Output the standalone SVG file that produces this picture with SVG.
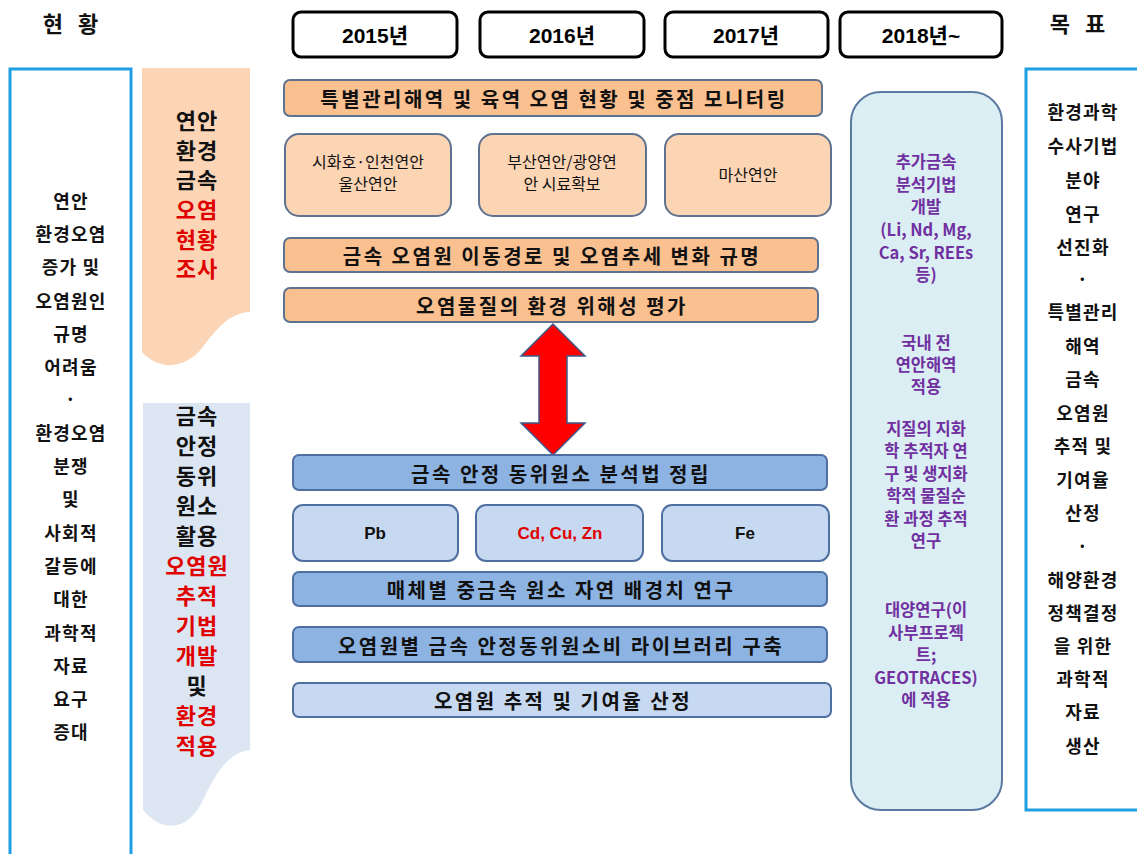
<svg xmlns="http://www.w3.org/2000/svg" width="1137" height="854" viewBox="0 0 1137 854">
<style>
text{font-family:"Noto Sans CJK KR","Liberation Sans",sans-serif;font-weight:bold;text-anchor:middle;dominant-baseline:central}
.yr{fill:#fff;stroke:#000;stroke-width:3}
.yt{font-family:"Liberation Sans","Noto Sans CJK KR",sans-serif;font-size:21px}
.hd{font-size:22px;letter-spacing:5px;fill:#111}
.frame{fill:#fff;stroke:#1ea0e0;stroke-width:3}
.side{font-size:18px;letter-spacing:1.2px;fill:#111}
.ban{font-size:22px;letter-spacing:1px;fill:#111}
.or1{fill:#fac090;stroke:#5f7290;stroke-width:2}
.or2{fill:#fcd5b5;stroke:#5f7290;stroke-width:2}
.bl1{fill:#8db3e2;stroke:#4f6fa0;stroke-width:2}
.bl2{fill:#c6d9f1;stroke:#4f6fa0;stroke-width:2}
.bt{font-size:20px;letter-spacing:2.5px;fill:#111}
.el{font-family:"Liberation Sans",sans-serif;font-size:17px;fill:#111}
.st{font-size:16px;fill:#111;font-weight:normal}
.pt{font-size:16.5px;fill:#7030a0}
.red{fill:#e00000}
</style>
<rect width="1137" height="854" fill="#fff"/>

<g id="head-left"><text class="hd" x="73" y="22">현 황</text></g>
<g id="head-right"><text class="hd" x="1080" y="22">목 표</text></g>

<g id="y2015"><rect class="yr" x="293" y="12" width="164" height="45" rx="8"/><text class="yt" x="375" y="35">2015년</text></g>
<g id="y2016"><rect class="yr" x="480" y="12" width="164" height="45" rx="8"/><text class="yt" x="562" y="35">2016년</text></g>
<g id="y2017"><rect class="yr" x="665" y="12" width="163" height="45" rx="8"/><text class="yt" x="746" y="35">2017년</text></g>
<g id="y2018"><rect class="yr" x="840" y="12" width="162" height="45" rx="8"/><text class="yt" x="921" y="35">2018년~</text></g>

<g id="status">
<rect class="frame" x="10" y="69" width="121" height="800"/>
<text class="side" x="71" y="200">연안</text>
<text class="side" x="71" y="233">환경오염</text>
<text class="side" x="71" y="266">증가 및</text>
<text class="side" x="71" y="300">오염원인</text>
<text class="side" x="71" y="333">규명</text>
<text class="side" x="71" y="366">어려움</text>
<text class="side" x="71" y="398">·</text>
<text class="side" x="71" y="432">환경오염</text>
<text class="side" x="71" y="465">분쟁</text>
<text class="side" x="71" y="498">및</text>
<text class="side" x="71" y="532">사회적</text>
<text class="side" x="71" y="565">갈등에</text>
<text class="side" x="71" y="598">대한</text>
<text class="side" x="71" y="632">과학적</text>
<text class="side" x="71" y="665">자료</text>
<text class="side" x="71" y="698">요구</text>
<text class="side" x="71" y="731">증대</text>
</g>

<g id="goal">
<rect class="frame" x="1026" y="69" width="120" height="741"/>
<text class="side" x="1083" y="111">환경과학</text>
<text class="side" x="1083" y="145">수사기법</text>
<text class="side" x="1083" y="179">분야</text>
<text class="side" x="1083" y="213">연구</text>
<text class="side" x="1083" y="246">선진화</text>
<text class="side" x="1083" y="278">·</text>
<text class="side" x="1083" y="311">특별관리</text>
<text class="side" x="1083" y="345">해역</text>
<text class="side" x="1083" y="378">금속</text>
<text class="side" x="1083" y="412">오염원</text>
<text class="side" x="1083" y="445">추적 및</text>
<text class="side" x="1083" y="479">기여율</text>
<text class="side" x="1083" y="512">산정</text>
<text class="side" x="1083" y="545">·</text>
<text class="side" x="1083" y="579">해양환경</text>
<text class="side" x="1083" y="612">정책결정</text>
<text class="side" x="1083" y="645">을 위한</text>
<text class="side" x="1083" y="678">과학적</text>
<text class="side" x="1083" y="711">자료</text>
<text class="side" x="1083" y="745">생산</text>
</g>

<g id="banner-orange">
<path d="M142,68 H250 V312 C228,313 216,330 202,348 C186,368 160,372 142,352 Z" fill="#fbd5b5"/>
<text class="ban" x="197" y="119">연안</text>
<text class="ban" x="197" y="149">환경</text>
<text class="ban" x="197" y="178">금속</text>
<text class="ban red" x="197" y="208">오염</text>
<text class="ban red" x="197" y="238">현황</text>
<text class="ban red" x="197" y="267">조사</text>
</g>

<g id="banner-blue">
<path d="M143,403 H250 V750 C228,752 215,775 203,800 C190,828 165,836 143,810 Z" fill="#dce6f2"/>
<text class="ban" x="197" y="414">금속</text>
<text class="ban" x="197" y="444">안정</text>
<text class="ban" x="197" y="474">동위</text>
<text class="ban" x="197" y="504">원소</text>
<text class="ban" x="197" y="534">활용</text>
<text class="ban red" x="197" y="564">오염원</text>
<text class="ban red" x="197" y="594">추적</text>
<text class="ban red" x="197" y="624">기법</text>
<text class="ban red" x="197" y="654">개발</text>
<text class="ban" x="197" y="684">및</text>
<text class="ban red" x="197" y="714">환경</text>
<text class="ban red" x="197" y="744">적용</text>
</g>

<g id="monitor"><rect class="or1" x="284" y="80" width="538" height="36" rx="6"/><text class="bt" x="554" y="98">특별관리해역 및 육역 오염 현황 및 중점 모니터링</text></g>
<g id="siwha"><rect class="or2" x="285" y="134" width="166" height="82" rx="14"/><text class="st" x="368" y="161">시화호·인천연안</text><text class="st" x="368" y="183">울산연안</text></g>
<g id="busan"><rect class="or2" x="479" y="134" width="167" height="82" rx="14"/><text class="st" x="562" y="161">부산연안/광양연</text><text class="st" x="562" y="183">안 시료확보</text></g>
<g id="masan"><rect class="or2" x="665" y="134" width="166" height="82" rx="14"/><text class="st" x="748" y="174">마산연안</text></g>
<g id="pathway"><rect class="or1" x="284" y="238" width="534" height="34" rx="6"/><text class="bt" x="552" y="255">금속 오염원 이동경로 및 오염추세 변화 규명</text></g>
<g id="risk"><rect class="or1" x="284" y="288" width="534" height="34" rx="6"/><text class="bt" x="552" y="305">오염물질의 환경 위해성 평가</text></g>

<g id="connectors">
<path d="M553,324 L585,356 L567,356 L567,423 L585,423 L553,455 L521,423 L539,423 L539,356 L521,356 Z" fill="#ff0000" stroke="#3d5a8a" stroke-width="1.5" stroke-linejoin="miter"/>
</g>

<g id="isotope"><rect class="bl1" x="293" y="455" width="534" height="35" rx="6"/><text class="bt" x="561" y="473">금속 안정 동위원소 분석법 정립</text></g>
<g id="pb"><rect class="bl2" x="293" y="505" width="165" height="56" rx="10"/><text class="el" x="375" y="533">Pb</text></g>
<g id="cdcuzn"><rect class="bl2" x="476" y="505" width="167" height="56" rx="10"/><text class="el red" x="560" y="533">Cd, Cu, Zn</text></g>
<g id="fe"><rect class="bl2" x="662" y="505" width="167" height="56" rx="10"/><text class="el" x="745" y="533">Fe</text></g>
<g id="background"><rect class="bl1" x="293" y="572" width="534" height="34" rx="6"/><text class="bt" x="561" y="589">매체별 중금속 원소 자연 배경치 연구</text></g>
<g id="library"><rect class="bl1" x="293" y="627" width="534" height="35" rx="6"/><text class="bt" x="561" y="645">오염원별 금속 안정동위원소비 라이브러리 구축</text></g>
<g id="trace"><rect class="bl2" x="293" y="683" width="538" height="34" rx="6"/><text class="bt" x="563" y="700">오염원 추적 및 기여율 산정</text></g>

<g id="future">
<rect x="851" y="92" width="151" height="718" rx="30" fill="#dbeef4" stroke="#5a7aa0" stroke-width="2"/>
<text class="pt" x="926" y="161">추가금속</text>
<text class="pt" x="926" y="184">분석기법</text>
<text class="pt" x="926" y="206">개발</text>
<text class="pt" x="926" y="229">(Li, Nd, Mg,</text>
<text class="pt" x="926" y="252">Ca, Sr, REEs</text>
<text class="pt" x="926" y="274">등)</text>
<text class="pt" x="926" y="342">국내 전</text>
<text class="pt" x="926" y="364">연안해역</text>
<text class="pt" x="926" y="386">적용</text>
<text class="pt" x="926" y="428">지질의 지화</text>
<text class="pt" x="926" y="450">학 추적자 연</text>
<text class="pt" x="926" y="473">구 및 생지화</text>
<text class="pt" x="926" y="495">학적 물질순</text>
<text class="pt" x="926" y="518">환 과정 추적</text>
<text class="pt" x="926" y="540">연구</text>
<text class="pt" x="926" y="609">대양연구(이</text>
<text class="pt" x="926" y="632">사부프로젝</text>
<text class="pt" x="926" y="654">트;</text>
<text class="pt" x="926" y="677">GEOTRACES)</text>
<text class="pt" x="926" y="699">에 적용</text>
</g>
</svg>
